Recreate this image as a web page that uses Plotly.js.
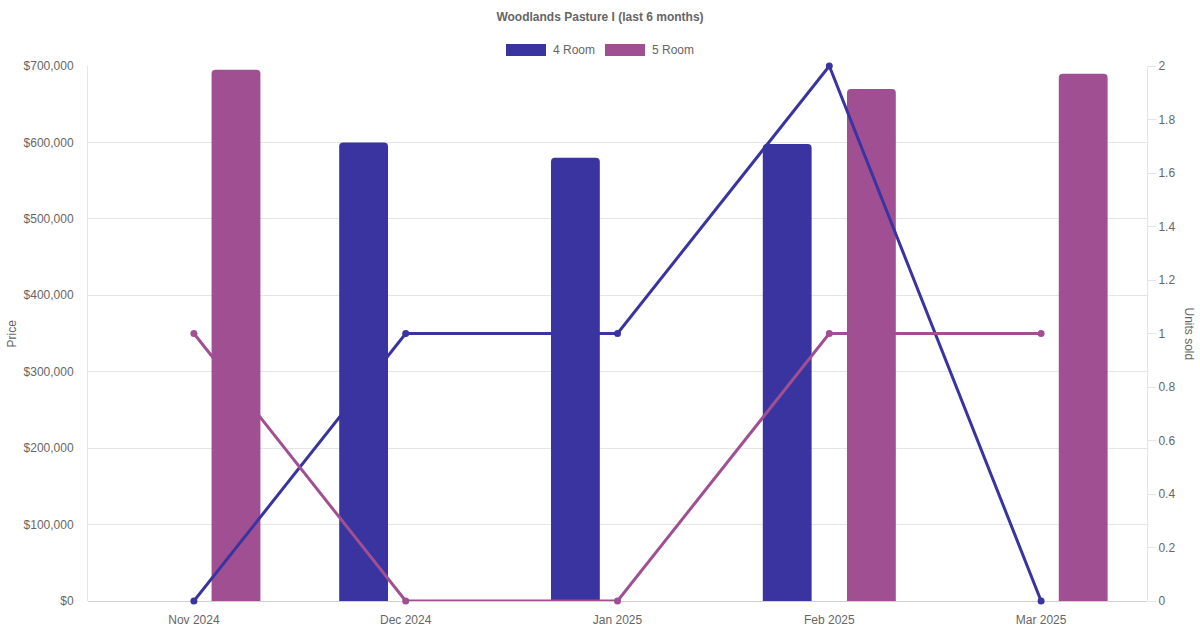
<!DOCTYPE html>
<html>
<head>
<meta charset="utf-8">
<script src="https://cdn.plot.ly/plotly-3.0.1.min.js"></script>
<style>html,body{margin:0;padding:0;background:#fff;}#chart{width:1200px;height:630px;}</style>
</head>
<body>
<div id="chart"></div>
<script>
const chartTitle = "Woodlands Pasture I (last 6 months)";
const months = ["Nov 2024", "Dec 2024", "Jan 2025", "Feb 2025", "Mar 2025"];
const seriesNames = ["4 Room", "5 Room"];
const price4Room = [null, 600000, 580000, 598000, null];
const price5Room = [695000, null, null, 670000, 690000];
const units4Room = [0, 1, 1, 2, 0];
const units5Room = [1, 0, 0, 1, 1];
const colors = ["#3934a0", "#a05092"];

const font = "Liberation Sans, Arial, Helvetica, sans-serif";
const textColor = "#666666";

const traces = [
  {type: "bar", name: seriesNames[0], x: months, y: price4Room, marker: {color: colors[0]}, yaxis: "y", showlegend: false, hoverinfo: "skip"},
  {type: "bar", name: seriesNames[1], x: months, y: price5Room, marker: {color: colors[1]}, yaxis: "y", showlegend: false, hoverinfo: "skip"},
  {type: "scatter", mode: "lines+markers", name: seriesNames[0], x: months, y: units4Room, yaxis: "y2",
   line: {color: colors[0], width: 3}, marker: {color: colors[0], size: 7}, showlegend: false, cliponaxis: false},
  {type: "scatter", mode: "lines+markers", name: seriesNames[1], x: months, y: units5Room, yaxis: "y2",
   line: {color: colors[1], width: 3}, marker: {color: colors[1], size: 7}, showlegend: false, cliponaxis: false}
];

const legendShapes = [];
const legendAnn = [];
const legendX = [506, 605];
seriesNames.forEach((n, i) => {
  legendShapes.push({type: "rect", xref: "paper", yref: "paper",
    x0: (legendX[i] - 88) / 1059, x1: (legendX[i] + 40 - 88) / 1059,
    y0: (601 - 56) / 535, y1: (601 - 44) / 535,
    fillcolor: colors[i], line: {width: 0}});
  legendAnn.push({xref: "paper", yref: "paper", x: (legendX[i] + 45 - 88) / 1059, y: (601 - 50) / 535,
    xanchor: "left", yanchor: "middle", text: n, showarrow: false,
    font: {family: font, size: 12, color: textColor}});
});

const layout = {
  width: 1200, height: 630,
  margin: {l: 88, r: 53, t: 66, b: 29, pad: 0},
  paper_bgcolor: "#ffffff", plot_bgcolor: "#ffffff",
  font: {family: font, size: 12, color: textColor},
  title: {text: "<b>" + chartTitle + "</b>", x: 0.5, xanchor: "center", y: 1 - 17 / 630, yanchor: "middle",
    font: {family: font, size: 12, color: textColor}},
  barmode: "group",
  bargap: 0.205,
  bargroupgap: 0.42,
  barcornerradius: 4,
  showlegend: false,
  xaxis: {
    type: "category", showgrid: false, zeroline: false, showline: false,
    ticks: "", tickfont: {family: font, size: 12, color: textColor}, ticklabelstandoff: 10
  },
  yaxis: {
    range: [0, 700000], dtick: 100000, tickprefix: "$", tickformat: ",",
    showgrid: true, gridcolor: "#e5e5e5", gridwidth: 1, zeroline: true, zerolinecolor: "#d0d0d0",
    showline: true, linecolor: "#e5e5e5", linewidth: 1,
    ticks: "", tickfont: {family: font, size: 12, color: textColor}, ticklabelstandoff: 11
  },
  yaxis2: {
    overlaying: "y", side: "right", range: [0, 2], dtick: 0.2,
    showgrid: false, zeroline: false, showline: true, linecolor: "#e5e5e5", linewidth: 1,
    ticks: "outside", ticklen: 8, tickcolor: "#e5e5e5",
    tickfont: {family: font, size: 12, color: textColor}, ticklabelstandoff: 0
  },
  shapes: legendShapes,
  annotations: legendAnn.concat([
    {xref: "paper", yref: "paper", x: -77 / 1059, y: 0.5, xanchor: "center", yanchor: "middle",
     text: "Price", textangle: -90, showarrow: false, font: {family: font, size: 12, color: textColor}},
    {xref: "paper", yref: "paper", x: (1189 - 88) / 1059, y: 0.5, xanchor: "center", yanchor: "middle",
     text: "Units sold", textangle: 90, showarrow: false, font: {family: font, size: 12, color: textColor}}
  ])
};

Plotly.newPlot("chart", traces, layout, {displayModeBar: false, staticPlot: true});
</script>
</body>
</html>
